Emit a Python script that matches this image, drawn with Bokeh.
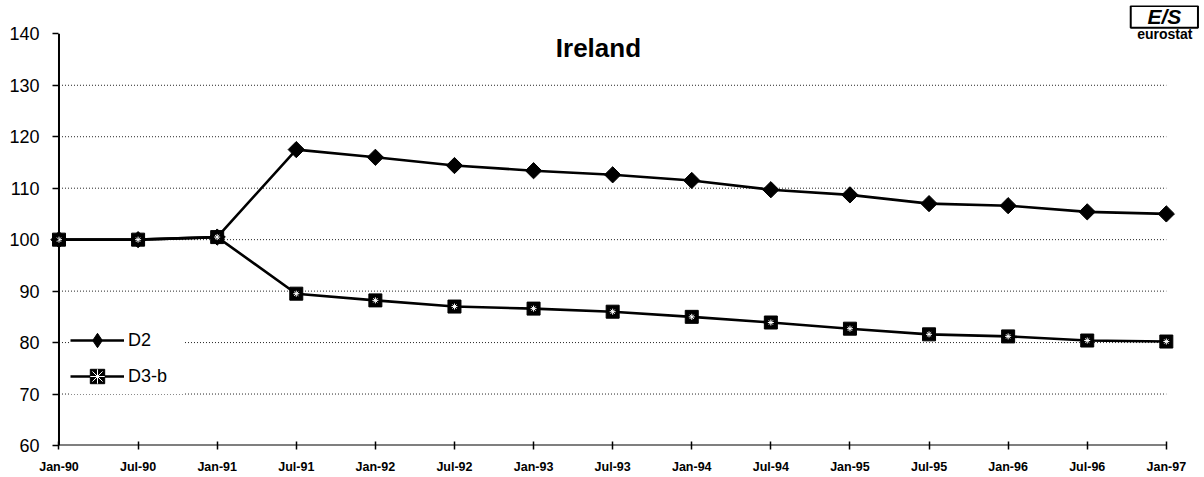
import math
from bokeh.plotting import figure
from bokeh.models import Range1d, FixedTicker, Legend, LegendItem, Label, BoxAnnotation
from bokeh.embed import file_html
from bokeh.resources import INLINE

dates = ["Jan-90", "Jul-90", "Jan-91", "Jul-91", "Jan-92", "Jul-92", "Jan-93", "Jul-93",
         "Jan-94", "Jul-94", "Jan-95", "Jul-95", "Jan-96", "Jul-96", "Jan-97"]
d2 = [100, 100, 100.5, 117.5, 116.0, 114.4, 113.4, 112.6, 111.5, 109.7, 108.7, 107.0, 106.6, 105.4, 105.0]
d3b = [100, 100, 100.5, 89.5, 88.2, 87.0, 86.6, 86.0, 85.0, 83.9, 82.7, 81.6, 81.2, 80.4, 80.2]
yticks = [60, 70, 80, 90, 100, 110, 120, 130, 140]
title_text = "Ireland"

xs = list(range(len(dates)))
pad_l, pad_r, pad_top = 0.12, 0.47, 5.5

p = figure(width=1204, height=477, output_backend="svg", toolbar_location=None,
           x_range=Range1d(xs[0] - pad_l, xs[-1] + pad_r),
           y_range=Range1d(yticks[0], yticks[-1] + pad_top),
           min_border_left=49, min_border_right=1, min_border_top=5, min_border_bottom=32)
p.outline_line_color = None
p.background_fill_color = "white"

# x axis
p.xaxis.ticker = FixedTicker(ticks=xs)
p.xaxis.major_label_overrides = {i: d for i, d in enumerate(dates)}
p.xaxis.major_label_text_font = "Liberation Sans"
p.xaxis.major_label_text_font_style = "bold"
p.xaxis.major_label_text_font_size = "12.5px"
p.xaxis.major_label_text_color = "black"
p.xaxis.major_tick_in = 4
p.xaxis.major_tick_out = 4
p.xaxis.minor_tick_line_color = None
p.xaxis.axis_line_color = None
p.xaxis.major_tick_line_color = "black"
p.xaxis.major_tick_line_width = 1.5
p.xaxis.major_label_standoff = 10

# y axis
p.yaxis.ticker = FixedTicker(ticks=yticks)
p.yaxis.major_label_text_font = "Liberation Sans"
p.yaxis.major_label_text_font_size = "18px"
p.yaxis.major_label_text_color = "black"
p.yaxis.major_tick_in = 9
p.yaxis.major_tick_out = -3
p.yaxis.minor_tick_line_color = None
p.yaxis.axis_line_color = None
p.yaxis.major_tick_line_color = "black"
p.yaxis.major_tick_line_width = 1.5
p.yaxis.major_label_standoff = 10

p.xgrid.grid_line_color = None
p.ygrid.grid_line_color = None

# grid lines (dotted), from the y axis to the last date
n = len(yticks) - 2
p.segment(x0=[xs[0]] * n, x1=[xs[-1]] * n, y0=yticks[1:-1], y1=yticks[1:-1],
          line_color="#222222", line_dash="1 2", line_width=1)

# axis lines
p.segment(x0=[xs[0]], x1=[xs[0]], y0=[yticks[0]], y1=[yticks[-1]], line_color="black", line_width=2)
p.segment(x0=[xs[0]], x1=[xs[-1]], y0=[yticks[0]], y1=[yticks[0]], line_color="black", line_width=2)

# series
l1 = p.line(xs, d2, line_color="black", line_width=2.6)
m1leg = p.scatter(xs, d2, marker="diamond", size=14, fill_color="black", line_color="black")
m1 = p.scatter(xs, d2, marker="square", angle=math.pi / 4, size=11.5,
               fill_color="black", line_color="black")
l2 = p.line(xs, d3b, line_color="black", line_width=2.6)
m2 = p.scatter(xs, d3b, marker="square", size=13, fill_color="black", line_color="black")
m2b = p.scatter(xs, d3b, marker="asterisk", size=6, line_color="white", line_width=1)

legend = Legend(items=[LegendItem(label="D2", renderers=[l1, m1leg]),
                       LegendItem(label="D3-b", renderers=[l2, m2, m2b])],
                location=(21, 51), border_line_color=None, background_fill_color="white",
                background_fill_alpha=1.0, label_text_font="Liberation Sans",
                label_text_font_size="18px", label_text_color="black",
                glyph_width=54, glyph_height=36, spacing=-1, padding=0,
                label_standoff=4, label_width=55, margin=0)
p.add_layout(legend)

p.add_layout(Label(x=6.82, y=137.3, text=title_text, text_font="Liberation Sans",
                   text_font_style="bold", text_font_size="26px", text_align="center",
                   text_baseline="middle", text_color="black"))

# eurostat logo (approximate)
p.add_layout(BoxAnnotation(left=13.55, right=14.40, bottom=141.2, top=145.4,
                           fill_color=None, fill_alpha=0, line_color="black",
                           line_alpha=1.0, line_width=2))
p.add_layout(Label(x=13.975, y=143.3, text="E/S", text_font="Liberation Sans",
                   text_font_style="bold italic", text_font_size="21px",
                   text_align="center", text_baseline="middle", text_color="black"))
p.add_layout(Label(x=13.98, y=140.0, text="eurostat", text_font="Liberation Sans",
                   text_font_style="bold", text_font_size="14px",
                   text_align="center", text_baseline="middle", text_color="black"))

open("out.html", "w").write(file_html(p, INLINE))
